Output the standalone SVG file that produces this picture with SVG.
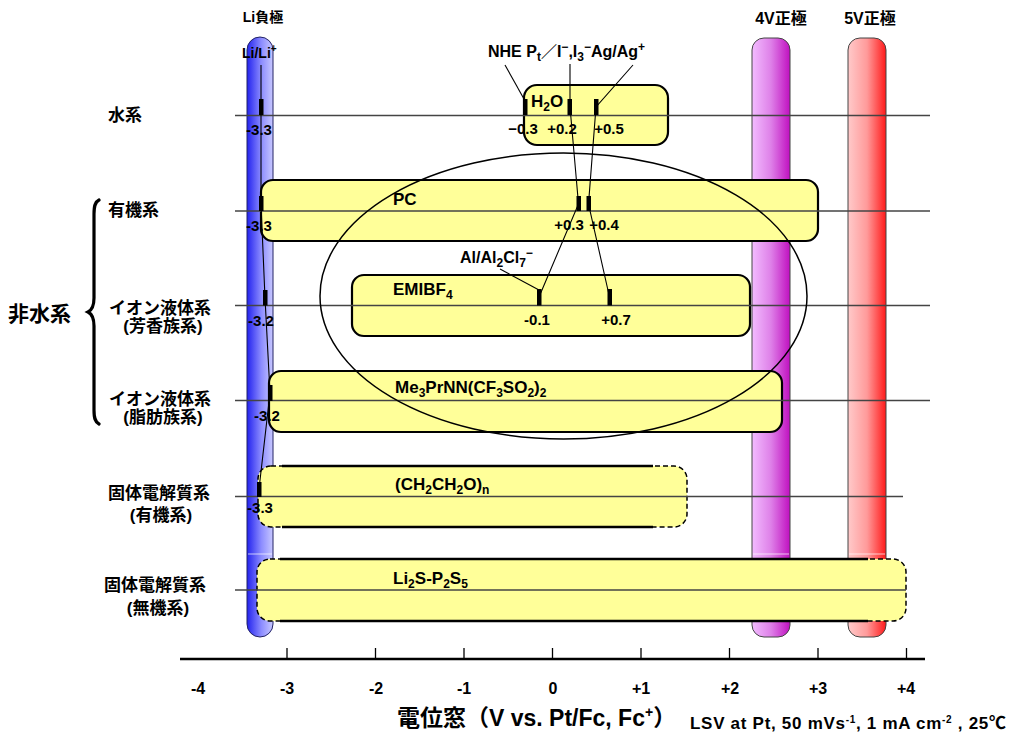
<svg xmlns="http://www.w3.org/2000/svg" width="1012" height="735" viewBox="0 0 1012 735">
<style>
text{font-family:"Liberation Sans","Noto Sans CJK JP",sans-serif;font-weight:bold;fill:#000}
.box{fill:#ffff99;stroke:#000;stroke-width:2.2}
.dbox{fill:#ffff99;stroke:#000;stroke-width:1.5;stroke-dasharray:5 3}
.solid{stroke:#000;stroke-width:2.4;fill:none}
.row{stroke:#444;stroke-width:1.3}
.conn{stroke:#000;stroke-width:1.1;fill:none}
.mk{fill:#000}
.lbl{font-size:17px}
.num{font-size:15px}
.sub{font-size:12px}
.cat{font-size:17px}
.ax{font-size:16px}
.tick{stroke:#000;stroke-width:1.3}
.glint{stroke:#fff;stroke-width:1;opacity:0.7}
</style>
<defs>
<linearGradient id="gLi" x1="0" y1="0" x2="1" y2="0">
<stop offset="0" stop-color="#2222ee"/><stop offset="0.55" stop-color="#8c8cff"/><stop offset="1" stop-color="#c8c8ff"/>
</linearGradient>
<linearGradient id="g4" x1="0" y1="0" x2="1" y2="0">
<stop offset="0" stop-color="#f2bcff"/><stop offset="0.5" stop-color="#de80e8"/><stop offset="1" stop-color="#c010c0"/>
</linearGradient>
<linearGradient id="g5" x1="0" y1="0" x2="1" y2="0">
<stop offset="0" stop-color="#ffcaca"/><stop offset="0.5" stop-color="#ff9a9a"/><stop offset="1" stop-color="#ff1a1a"/>
</linearGradient>
</defs>
<rect width="1012" height="735" fill="#fff"/>

<!-- electrode bars -->
<g id="li-bar">
<rect x="247" y="37" width="26" height="600" rx="13" fill="url(#gLi)" stroke="#222266" stroke-width="1"/>
<line x1="248" y1="554" x2="272" y2="554" class="glint"/>
<text x="263" y="22" font-size="14" text-anchor="middle">Li負極</text>
</g>
<g id="v4-bar">
<rect x="752" y="38" width="38" height="599" rx="12" fill="url(#g4)" stroke="#444" stroke-width="1"/>
<line x1="753" y1="554" x2="789" y2="554" class="glint"/>
<text x="781" y="24" font-size="16" text-anchor="middle">4V正極</text>
</g>
<g id="v5-bar">
<rect x="848" y="38" width="38" height="599" rx="12" fill="url(#g5)" stroke="#444" stroke-width="1"/>
<line x1="849" y1="554" x2="885" y2="554" class="glint"/>
<text x="870" y="24" font-size="16" text-anchor="middle">5V正極</text>
</g>

<!-- electrolyte boxes -->
<g id="box-h2o"><rect x="524" y="85" width="144" height="60" rx="13" class="box"/></g>
<g id="box-pc"><rect x="261" y="180" width="557" height="61" rx="12" class="box"/></g>
<g id="box-emibf4"><rect x="352" y="275" width="398" height="61" rx="12" class="box"/></g>
<g id="box-me3prnn"><rect x="269" y="371" width="513" height="61" rx="12" class="box"/></g>
<g id="box-peo">
<rect x="258" y="466" width="429" height="61" rx="13" class="dbox"/>
<line x1="282" y1="466" x2="653" y2="466" class="solid"/>
<line x1="282" y1="527" x2="653" y2="527" class="solid"/>
</g>
<g id="box-li2s">
<rect x="257" y="559" width="649" height="62" rx="13" class="dbox"/>
<line x1="280" y1="559" x2="868" y2="559" class="solid"/>
<line x1="280" y1="621" x2="868" y2="621" class="solid"/>
</g>

<!-- row lines -->
<g id="rows">
<line x1="235" y1="115.5" x2="930" y2="115.5" class="row"/>
<line x1="235" y1="211" x2="930" y2="211" class="row"/>
<line x1="235" y1="305.5" x2="930" y2="305.5" class="row"/>
<line x1="235" y1="400.5" x2="930" y2="400.5" class="row"/>
<line x1="235" y1="496.5" x2="903" y2="496.5" class="row"/>
<line x1="235" y1="590" x2="906" y2="590" class="row"/>
</g>

<!-- connectors -->
<g id="connectors">
<polyline class="conn" points="261,65 261,107 261,204 265,298 270,393 259,489"/>
<line class="conn" x1="505" y1="65" x2="524" y2="99"/>
<polyline class="conn" points="570,64 570,107 578.5,204 539,297"/>
<polyline class="conn" points="633,65 596,107 588.5,204 609.5,297"/>
<line class="conn" x1="500" y1="269" x2="539" y2="290"/>
</g>

<!-- markers -->
<g id="markers">
<rect class="mk" x="259" y="99" width="4.5" height="16"/>
<rect class="mk" x="523" y="99" width="4.5" height="16"/>
<rect class="mk" x="567.5" y="99" width="4.5" height="16"/>
<rect class="mk" x="594" y="99" width="4.5" height="16"/>
<rect class="mk" x="259" y="196" width="4.5" height="15"/>
<rect class="mk" x="576.5" y="196" width="4.5" height="15"/>
<rect class="mk" x="586.5" y="196" width="4.5" height="15"/>
<rect class="mk" x="263" y="290" width="4.5" height="15.5"/>
<rect class="mk" x="537" y="289" width="4.5" height="16.5"/>
<rect class="mk" x="607.5" y="289" width="4.5" height="16.5"/>
<rect class="mk" x="268" y="385" width="4.5" height="16"/>
<rect class="mk" x="257" y="482" width="4.5" height="15"/>
</g>

<!-- ellipse -->
<g id="ellipse"><ellipse cx="563.5" cy="296" rx="243.5" ry="143" fill="none" stroke="#000" stroke-width="1.5"/></g>

<!-- box labels -->
<g id="labels">
<text x="242" y="58" font-size="14">Li/Li<tspan font-size="10" dy="-6">+</tspan></text>
<text x="488" y="57" font-size="16">NHE P<tspan class="sub" dy="4">t</tspan><tspan dy="-4">／I</tspan><tspan class="sub" dy="-6">−</tspan><tspan dy="6">,I</tspan><tspan class="sub" dy="4">3</tspan><tspan class="sub" dy="-10">−</tspan><tspan dy="6">Ag/Ag</tspan><tspan class="sub" dy="-6">+</tspan></text>
<text x="531" y="107" class="lbl">H<tspan class="sub" dy="4">2</tspan><tspan dy="-4">O</tspan></text>
<text x="393" y="205" class="lbl">PC</text>
<text x="460" y="263" font-size="16">Al/Al<tspan class="sub" dy="4">2</tspan><tspan dy="-4">Cl</tspan><tspan class="sub" dy="4">7</tspan><tspan class="sub" dy="-10">−</tspan></text>
<text x="393" y="295" class="lbl">EMIBF<tspan class="sub" dy="4">4</tspan></text>
<text x="395" y="393" class="lbl">Me<tspan class="sub" dy="4">3</tspan><tspan dy="-4">PrNN(CF</tspan><tspan class="sub" dy="4">3</tspan><tspan dy="-4">SO</tspan><tspan class="sub" dy="4">2</tspan><tspan dy="-4">)</tspan><tspan class="sub" dy="4">2</tspan></text>
<text x="395" y="490" class="lbl">(CH<tspan class="sub" dy="4">2</tspan><tspan dy="-4">CH</tspan><tspan class="sub" dy="4">2</tspan><tspan dy="-4">O)</tspan><tspan class="sub" dy="4">n</tspan></text>
<text x="393" y="584" class="lbl">Li<tspan class="sub" dy="4">2</tspan><tspan dy="-4">S-P</tspan><tspan class="sub" dy="4">2</tspan><tspan dy="-4">S</tspan><tspan class="sub" dy="4">5</tspan></text>
</g>

<!-- potential values -->
<g id="values" text-anchor="middle">
<text x="259" y="135" class="num">-3.3</text>
<text x="523" y="134" class="num">−0.3</text>
<text x="562" y="134" class="num">+0.2</text>
<text x="609" y="134" class="num">+0.5</text>
<text x="259" y="231" class="num">-3.3</text>
<text x="569" y="230" class="num">+0.3</text>
<text x="604" y="230" class="num">+0.4</text>
<text x="261" y="326" class="num">-3.2</text>
<text x="537" y="325" class="num">-0.1</text>
<text x="616" y="325" class="num">+0.7</text>
<text x="267" y="421" class="num">-3.2</text>
<text x="260" y="513" class="num">-3.3</text>
</g>

<!-- category labels -->
<g id="categories">
<text x="108" y="121" class="cat">水系</text>
<text x="108" y="216" class="cat">有機系</text>
<text x="109" y="314" class="cat">イオン液体系</text>
<text x="163" y="332" class="cat" text-anchor="middle">(芳香族系)</text>
<text x="109" y="405" class="cat">イオン液体系</text>
<text x="163" y="423" class="cat" text-anchor="middle">(脂肪族系)</text>
<text x="108" y="499" class="cat">固体電解質系</text>
<text x="161" y="521" class="cat" text-anchor="middle">(有機系)</text>
<text x="104" y="591" class="cat">固体電解質系</text>
<text x="158" y="614" class="cat" text-anchor="middle">(無機系)</text>
<text x="8" y="321" font-size="21">非水系</text>
<path d="M99 200 C95 202 94 206 94 214 L94 298 C94 306 92 310 88 312 C92 314 94 318 94 326 L94 410 C94 418 95 422 99 424" fill="none" stroke="#000" stroke-width="3.2" stroke-linecap="round"/>
</g>

<!-- axis -->
<g id="axis">
<line x1="180" y1="659" x2="925" y2="659" stroke="#000" stroke-width="2.5"/>
<line class="tick" x1="287" y1="648" x2="287" y2="659"/>
<line class="tick" x1="375.5" y1="648" x2="375.5" y2="659"/>
<line class="tick" x1="464" y1="648" x2="464" y2="659"/>
<line class="tick" x1="552.5" y1="648" x2="552.5" y2="659"/>
<line class="tick" x1="641" y1="648" x2="641" y2="659"/>
<line class="tick" x1="729.5" y1="648" x2="729.5" y2="659"/>
<line class="tick" x1="818" y1="648" x2="818" y2="659"/>
<line class="tick" x1="906.5" y1="648" x2="906.5" y2="659"/>
<g text-anchor="middle" class="ax">
<text x="198" y="694">-4</text>
<text x="287" y="694">-3</text>
<text x="376" y="694">-2</text>
<text x="464" y="694">-1</text>
<text x="553" y="694">0</text>
<text x="641" y="694">+1</text>
<text x="730" y="694">+2</text>
<text x="818" y="694">+3</text>
<text x="906" y="694">+4</text>
</g>
<text x="397" y="726" font-size="23">電位窓（V vs. Pt/Fc, Fc<tspan font-size="14" dy="-9">+</tspan><tspan dy="9">）</tspan></text>
<text x="690" y="729" font-size="17" textLength="316" lengthAdjust="spacing">LSV at Pt, 50 mVs<tspan font-size="10" dy="-6">-1</tspan><tspan dy="6">, 1 mA cm</tspan><tspan font-size="10" dy="-6">-2</tspan><tspan dy="6"> , 25℃</tspan></text>
</g>
</svg>
